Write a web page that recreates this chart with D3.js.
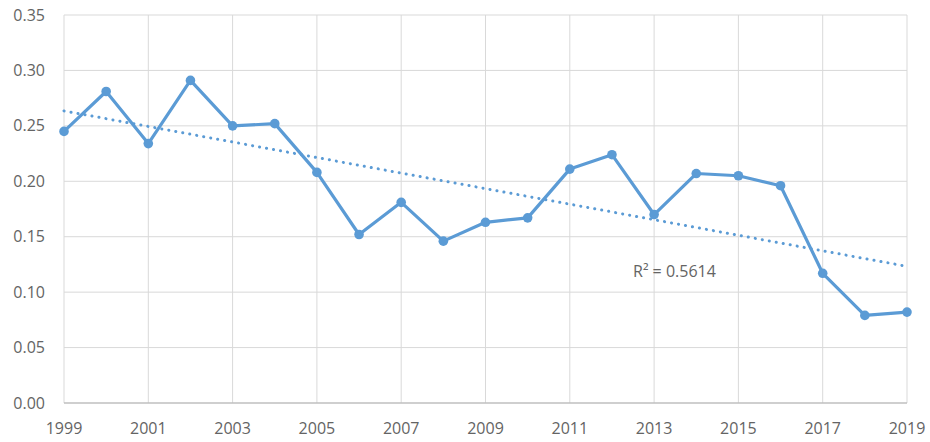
<html>
<head>
<script src="https://d3js.org/d3.v7.min.js"></script>
<style>
  body { margin: 0; background: #fff; }
  text { font-family: "Open Sans", "Liberation Sans", sans-serif; fill: #646464; }
</style>
</head>
<body>
<svg id="chart" width="930" height="442"></svg>
<script>
// values
const years = d3.range(1999, 2020);
const values = [0.245, 0.281, 0.234, 0.291, 0.250, 0.252, 0.208, 0.152, 0.181, 0.146,
                0.163, 0.167, 0.211, 0.224, 0.170, 0.207, 0.205, 0.196, 0.117, 0.079, 0.082];
const yTicks = [0, 0.05, 0.10, 0.15, 0.20, 0.25, 0.30, 0.35];
const xTicks = d3.range(1999, 2020, 2);
const rLabel = "R\u00B2 = 0.5614";

const svg = d3.select('#chart');
const plotLeft = 64, plotRight = 907, plotTop = 15, plotBottom = 403;
const blue = '#5b9bd5';

const x = d3.scaleLinear().domain([1999, 2019]).range([plotLeft, plotRight]);
const y = d3.scaleLinear().domain([0, 0.35]).range([plotBottom, plotTop]);

// grid
svg.append('g').selectAll('line')
  .data(yTicks.slice(1))
  .enter().append('line')
  .attr('x1', plotLeft).attr('x2', plotRight)
  .attr('y1', d => y(d)).attr('y2', d => y(d))
  .attr('stroke', '#d9d9d9').attr('stroke-width', 1);

svg.append('g').selectAll('line')
  .data(xTicks)
  .enter().append('line')
  .attr('x1', d => x(d)).attr('x2', d => x(d))
  .attr('y1', plotTop).attr('y2', plotBottom)
  .attr('stroke', '#d9d9d9').attr('stroke-width', 1);

// bottom axis line
svg.append('line')
  .attr('x1', plotLeft).attr('x2', plotRight)
  .attr('y1', plotBottom).attr('y2', plotBottom)
  .attr('stroke', '#bfbfbf').attr('stroke-width', 1.5);

// tick labels
svg.append('g').selectAll('text')
  .data(yTicks)
  .enter().append('text')
  .attr('x', 45).attr('y', d => y(d))
  .attr('dy', '0.35em')
  .attr('text-anchor', 'end')
  .style('font-size', '16px')
  .text(d => d3.format('.2f')(d));

svg.append('g').selectAll('text')
  .data(xTicks)
  .enter().append('text')
  .attr('x', d => x(d)).attr('y', 428)
  .attr('dy', '0.35em')
  .attr('text-anchor', 'middle')
  .style('font-size', '16px')
  .text(d => d);

// linear trend (least squares on the series)
const mx = d3.mean(years), my = d3.mean(values);
const slope = d3.sum(years, (t, i) => (t - mx) * (values[i] - my)) / d3.sum(years, t => (t - mx) * (t - mx));
const icpt = my - slope * mx;

svg.append('line')
  .attr('x1', x(1999)).attr('y1', y(icpt + slope * 1999))
  .attr('x2', x(2019)).attr('y2', y(icpt + slope * 2019))
  .attr('stroke', blue)
  .attr('stroke-width', 3)
  .attr('stroke-linecap', 'round')
  .attr('stroke-dasharray', '0.1 7');

// series
const line = d3.line().x((d, i) => x(years[i])).y(d => y(d));
svg.append('path')
  .datum(values)
  .attr('d', line)
  .attr('fill', 'none')
  .attr('stroke', blue)
  .attr('stroke-width', 3.2)
  .attr('stroke-linejoin', 'round');

svg.append('g').selectAll('circle')
  .data(values)
  .enter().append('circle')
  .attr('cx', (d, i) => x(years[i]))
  .attr('cy', d => y(d))
  .attr('r', 4.8)
  .attr('fill', blue);

svg.append('text')
  .attr('x', 633).attr('y', 271)
  .attr('dy', '0.35em')
  .style('font-size', '16px')
  .text(rLabel);
</script>
</body>
</html>
